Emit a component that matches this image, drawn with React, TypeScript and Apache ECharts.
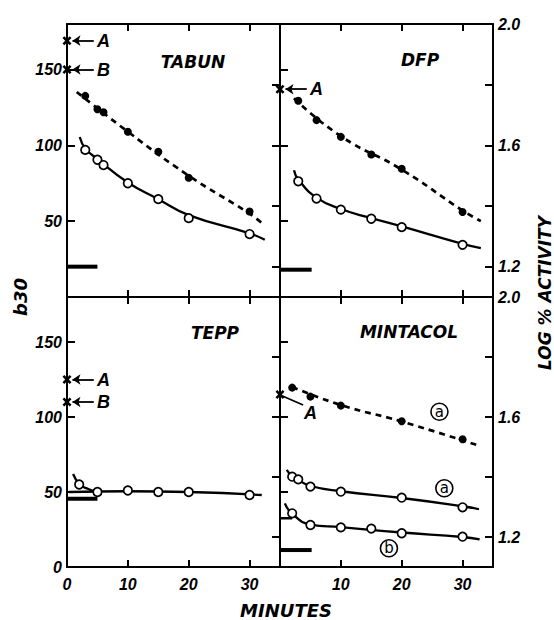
import React, { useEffect, useRef } from "react";
import * as echarts from "echarts";

// ---------- axis ticks / labels ----------
const X_TICK_VALUES = [10, 20, 30];
const X_LABELS_LEFT = [0, 10, 20, 30];
const X_LABELS_RIGHT = [10, 20, 30];
const B30_TICK_VALUES = [50, 100, 150];
const B30_LABELS_TOP = [50, 100, 150];
const B30_LABELS_BOTTOM = [0, 50, 100, 150];
const LOG_TICK_VALUES = [1.2, 1.4, 1.6, 1.8];
const LOG_LABELS = [1.2, 1.6, 2.0];

// ---------- TABUN ----------
const TABUN_TIME = [3, 5, 6, 10, 15, 20, 30];
const TABUN_B30 = [97, 90.5, 87, 75, 64.5, 52, 41.5];
const TABUN_LOG = [1.763, 1.719, 1.709, 1.645, 1.579, 1.493, 1.382];
const TABUN_B30_FIT = [[2.1, 105.5], [3, 98], [5, 91], [10, 75.5], [15, 64.5], [20, 54], [30, 42], [32.5, 37.7]];
const TABUN_LOG_FIT = [[1.6, 1.776], [10, 1.645], [20, 1.5], [30, 1.375], [32, 1.344]];
const TABUN_CONTROL = [[0, 20], [5, 20]];
const TABUN_REFS = [{ name: "A", b30: 169 }, { name: "B", b30: 150 }];

// ---------- DFP ----------
const DFP_TIME = [3, 6, 10, 15, 20, 30];
const DFP_B30 = [76.3, 64.9, 57.6, 51.6, 46.1, 34.4];
const DFP_LOG = [1.747, 1.683, 1.628, 1.57, 1.523, 1.38];
const DFP_B30_FIT = [[2.3, 83.6], [3, 77.5], [6, 65.5], [10, 58], [15, 52], [20, 46.5], [30, 35], [33, 32.2]];
const DFP_LOG_FIT = [[2.3, 1.755], [10, 1.63], [20, 1.52], [30, 1.385], [33, 1.35]];
const DFP_CONTROL = [[0, 18], [5.2, 18]];
const DFP_REFS = [{ name: "A", b30: 137 }];

// ---------- TEPP ----------
const TEPP_TIME = [2, 5, 10, 15, 20, 30];
const TEPP_B30 = [55, 50, 51, 50, 50, 48];
const TEPP_B30_FIT = [[0.3, 50], [10, 50.5], [20, 50], [32, 48]];
const TEPP_B30_EARLY = [[1, 62], [2.1, 55], [3.5, 52], [5, 50]];
const TEPP_CONTROL = [[0, 45.5], [5, 45.5]];
const TEPP_REFS = [{ name: "A", b30: 125 }, { name: "B", b30: 110 }];

// ---------- MINTACOL ----------
const MINT_LOG_TIME = [2, 5, 10, 20, 30];
const MINT_LOG = [1.698, 1.668, 1.638, 1.586, 1.526];
const MINT_LOG_FIT = [[2, 1.7], [10, 1.64], [20, 1.585], [32.3, 1.507]];
const MINT_A_TIME = [2, 3, 5, 10, 20, 30];
const MINT_A_B30 = [60.2, 58.4, 53.6, 50.2, 46.2, 39.8];
const MINT_A_FIT = [[1.1, 64.7], [2, 60.5], [3, 58], [5, 54], [10, 50.5], [20, 46], [30, 40.5], [32.7, 38.5]];
const MINT_B_TIME = [2, 5, 10, 15, 20, 30];
const MINT_B_B30 = [35.8, 28, 26.4, 25.6, 22.5, 20.2];
const MINT_B_FIT = [[0.8, 42.4], [2, 35.5], [5, 28.3], [10, 26.6], [20, 23], [30, 20], [32.8, 18.4]];
const MINT_B_BASE = [[0, 32.5], [2, 32.5]];
const MINT_CONTROL = [[0, 11.3], [5.2, 11.3]];
const MINT_REFS = [{ name: "A", b30: 115 }];

const TITLES = ["TABUN", "DFP", "TEPP", "MINTACOL"];

// ---------- styles ----------
const BLACK = "#000";
const AXLINE = { color: BLACK, width: 2 };
const FONT_NUM = {
  fontFamily: "Liberation Sans",
  fontStyle: "italic" as const,
  fontWeight: "bold" as const,
  fontSize: 16,
  color: BLACK,
};
const GRIDS = [
  { left: 67, top: 24, width: 213, height: 273 },
  { left: 280, top: 24, width: 213, height: 273 },
  { left: 67, top: 297, width: 213, height: 270 },
  { left: 280, top: 297, width: 213, height: 270 },
];
const CROSS = "path://M0,2L2,0L5,3L8,0L10,2L7,5L10,8L8,10L5,7L2,10L0,8L3,5Z";

function buildAxes() {
  const xAxis: any[] = [];
  const yAxis: any[] = [];
  GRIDS.forEach((_, i) => {
    const col = i % 2;
    const row = Math.floor(i / 2);
    const base = {
      type: "value",
      gridIndex: i,
      splitLine: { show: false },
    };
    xAxis.push({
      ...base,
      min: 0,
      max: 35,
      position: "bottom",
      axisLine: { show: true, onZero: false, lineStyle: AXLINE },
      axisTick: { show: true, inside: true, length: 7, lineStyle: AXLINE, customValues: X_TICK_VALUES },
      axisLabel:
        row === 1
          ? { show: true, margin: 9, customValues: col === 0 ? X_LABELS_LEFT : X_LABELS_RIGHT, ...FONT_NUM }
          : { show: false },
    });
    xAxis.push({
      ...base,
      min: 0,
      max: 35,
      position: "top",
      axisLine: { show: true, onZero: false, lineStyle: AXLINE },
      axisTick: { show: true, inside: true, length: 7, lineStyle: AXLINE, customValues: X_TICK_VALUES },
      axisLabel: { show: false },
    });
    yAxis.push({
      ...base,
      min: 0,
      max: 180,
      position: "left",
      axisLine: { show: true, onZero: false, lineStyle: AXLINE },
      axisTick: { show: true, inside: true, length: 8, lineStyle: AXLINE, customValues: B30_TICK_VALUES },
      axisLabel:
        col === 0
          ? { show: true, margin: 5, customValues: row === 0 ? B30_LABELS_TOP : B30_LABELS_BOTTOM, ...FONT_NUM }
          : { show: false },
    });
    yAxis.push({
      ...base,
      min: 1.1,
      max: 2.0,
      position: "right",
      axisLine: { show: true, onZero: false, lineStyle: AXLINE },
      axisTick: { show: true, inside: true, length: 8, lineStyle: AXLINE, customValues: LOG_TICK_VALUES },
      axisLabel:
        col === 1
          ? {
              show: true,
              margin: 5,
              customValues: LOG_LABELS,
              formatter: (v: number) => v.toFixed(1),
              ...FONT_NUM,
            }
          : { show: false },
    });
  });
  return { xAxis, yAxis };
}

const zip = (t: number[], v: number[]) => t.map((x, i) => [x, v[i]]);

function fitLine(g: number, right: boolean, data: number[][], dashed: boolean) {
  return {
    type: "line",
    xAxisIndex: g * 2,
    yAxisIndex: g * 2 + (right ? 1 : 0),
    data,
    smooth: 0.5,
    symbol: "none",
    silent: true,
    lineStyle: { color: BLACK, width: dashed ? 2.7 : 2.3, type: dashed ? [6, 5] : "solid", opacity: 1 },
    z: 2,
  };
}

function points(g: number, right: boolean, data: number[][], filled: boolean) {
  return {
    type: "scatter",
    xAxisIndex: g * 2,
    yAxisIndex: g * 2 + (right ? 1 : 0),
    data,
    symbol: "circle",
    symbolSize: filled ? 8 : 8.5,
    silent: true,
    itemStyle: filled
      ? { color: BLACK, borderColor: BLACK, borderWidth: 0, opacity: 1 }
      : { color: "#fff", borderColor: BLACK, borderWidth: 1.7, opacity: 1 },
    z: 4,
  };
}

function bar(g: number, data: number[][], width = 4) {
  return {
    type: "line",
    xAxisIndex: g * 2,
    yAxisIndex: g * 2,
    data,
    symbol: "none",
    silent: true,
    lineStyle: { color: BLACK, width, type: "solid", opacity: 1 },
    z: 3,
  };
}

const NOTE_FONT = {
  fontFamily: "Liberation Sans",
  fontStyle: "italic",
  fontWeight: "bold",
  fontSize: 18,
  color: BLACK,
  opacity: 1,
};

function refs(g: number, items: { name: string; b30: number }[], arrows: boolean) {
  const out: any[] = [
    {
      type: "scatter",
      xAxisIndex: g * 2,
      yAxisIndex: g * 2,
      data: items.map((r) => [0, r.b30]),
      symbol: CROSS,
      symbolSize: 9,
      silent: true,
      itemStyle: { color: BLACK, opacity: 1 },
      z: 5,
      markLine: arrows
        ? {
            silent: true,
            symbol: ["none", "arrow"],
            symbolSize: 8,
            lineStyle: { color: BLACK, width: 1.8, type: "solid", opacity: 1 },
            itemStyle: { color: BLACK, opacity: 1 },
            label: { show: false },
            data: items.map((r) => [{ coord: [4.4, r.b30] }, { coord: [0.9, r.b30] }]),
          }
        : {
            silent: true,
            symbol: ["none", "none"],
            lineStyle: { color: BLACK, width: 1.8, type: "solid", opacity: 1 },
            label: { show: false },
            data: items.map((r) => [{ coord: [0.4, r.b30 - 1] }, { coord: [3.8, r.b30 - 7] }]),
          },
    },
    {
      type: "scatter",
      xAxisIndex: g * 2,
      yAxisIndex: g * 2,
      data: items.map((r) => ({ value: arrows ? [6, r.b30] : [5, r.b30 - 12], name: r.name })),
      symbolSize: 0,
      silent: true,
      itemStyle: { opacity: 1 },
      label: {
        show: true,
        position: "inside",
        formatter: (p: any) => p.name,
        ...NOTE_FONT,
      },
      z: 5,
    },
  ];
  return out;
}

function circled(g: number, items: { text: string; at: number[] }[]) {
  return {
    type: "scatter",
    xAxisIndex: g * 2,
    yAxisIndex: g * 2,
    data: items.map((it) => ({ value: it.at, name: it.text })),
    symbolSize: 0,
    silent: true,
    itemStyle: { opacity: 1 },
    label: {
      show: true,
      position: "inside",
      formatter: (p: any) => `{c|${p.name}}`,
      rich: {
        c: {
          width: 17,
          height: 17,
          lineHeight: 17,
          align: "center",
          borderRadius: 9,
          borderWidth: 1.6,
          borderColor: BLACK,
          fontFamily: "DejaVu Sans",
          fontSize: 15,
          color: BLACK,
        },
      },
    },
    z: 5,
  };
}

function buildOption() {
  const { xAxis, yAxis } = buildAxes();
  const series: any[] = [
    // TABUN
    fitLine(0, false, TABUN_B30_FIT, false),
    fitLine(0, true, TABUN_LOG_FIT, true),
    points(0, false, zip(TABUN_TIME, TABUN_B30), false),
    points(0, true, zip(TABUN_TIME, TABUN_LOG), true),
    bar(0, TABUN_CONTROL),
    ...refs(0, TABUN_REFS, true),
    // DFP
    fitLine(1, false, DFP_B30_FIT, false),
    fitLine(1, true, DFP_LOG_FIT, true),
    points(1, false, zip(DFP_TIME, DFP_B30), false),
    points(1, true, zip(DFP_TIME, DFP_LOG), true),
    bar(1, DFP_CONTROL),
    ...refs(1, DFP_REFS, true),
    // TEPP
    fitLine(2, false, TEPP_B30_FIT, false),
    fitLine(2, false, TEPP_B30_EARLY, false),
    points(2, false, zip(TEPP_TIME, TEPP_B30), false),
    bar(2, TEPP_CONTROL),
    ...refs(2, TEPP_REFS, true),
    // MINTACOL
    fitLine(3, true, MINT_LOG_FIT, true),
    fitLine(3, false, MINT_A_FIT, false),
    fitLine(3, false, MINT_B_FIT, false),
    points(3, true, zip(MINT_LOG_TIME, MINT_LOG), true),
    points(3, false, zip(MINT_A_TIME, MINT_A_B30), false),
    points(3, false, zip(MINT_B_TIME, MINT_B_B30), false),
    bar(3, MINT_B_BASE, 2.5),
    bar(3, MINT_CONTROL),
    ...refs(3, MINT_REFS, false),
    circled(3, [
      { text: "a", at: [26.2, 103.5] },
      { text: "a", at: [27, 52.5] },
      { text: "b", at: [17.9, 12.5] },
    ]),
  ];

  const titleStyle = {
    fontFamily: "DejaVu Sans",
    fontStyle: "italic",
    fontWeight: "bold",
    fontSize: 17,
    fill: BLACK,
    align: "center",
    verticalAlign: "middle",
  };
  const titlePos = [
    [193, 62],
    [420, 60],
    [215, 333],
    [409, 332],
  ];
  const graphic: any[] = TITLES.map((t, i) => ({
    type: "text",
    x: titlePos[i][0],
    y: titlePos[i][1],
    silent: true,
    style: { ...titleStyle, text: t },
  }));
  graphic.push({
    type: "text",
    x: 286,
    y: 610,
    silent: true,
    style: { ...titleStyle, fontSize: 18, text: "MINUTES" },
  });
  graphic.push({
    type: "text",
    x: 20,
    y: 297,
    rotation: Math.PI / 2,
    silent: true,
    style: { ...titleStyle, fontSize: 18, text: "b30" },
  });
  graphic.push({
    type: "text",
    x: 545,
    y: 293,
    rotation: Math.PI / 2,
    silent: true,
    style: { ...titleStyle, fontSize: 17, text: "LOG % ACTIVITY" },
  });

  return {
    animation: false,
    backgroundColor: "#fff",
    grid: GRIDS.map((g) => ({ ...g, show: false })),
    xAxis,
    yAxis,
    series,
    graphic,
  };
}

export default function App() {
  const ref = useRef<HTMLDivElement>(null);
  useEffect(() => {
    if (!ref.current) return;
    const chart = echarts.init(ref.current, undefined, { renderer: "svg" });
    chart.setOption(buildOption() as any);
    return () => chart.dispose();
  }, []);
  return (
    <div
      ref={ref}
      style={{ position: "absolute", left: 0, top: 0, width: 554, height: 620, background: "#fff" }}
    />
  );
}
